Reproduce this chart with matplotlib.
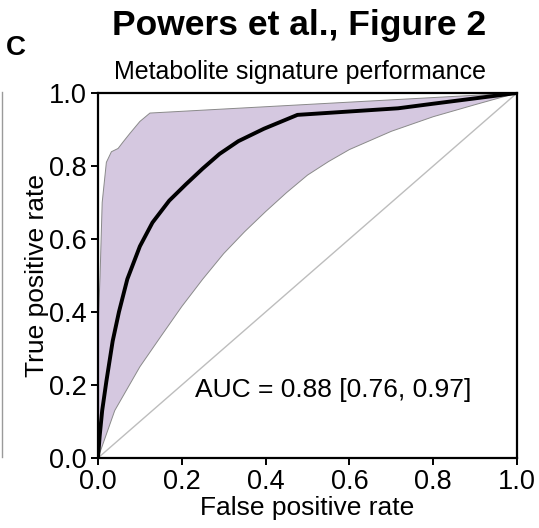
import matplotlib.pyplot as plt
from matplotlib.lines import Line2D

plt.rcParams['font.family'] = ['Liberation Sans', 'DejaVu Sans']

# mean ROC curve
fpr = [0, 0.004, 0.01, 0.02, 0.035, 0.05, 0.07, 0.1, 0.13, 0.17, 0.21, 0.25, 0.29, 0.335,
       0.396, 0.476, 0.716, 0.796, 1.0]
tpr = [0, 0.06, 0.13, 0.21, 0.32, 0.40, 0.49, 0.58, 0.645, 0.705, 0.75, 0.793, 0.833, 0.868,
       0.902, 0.94, 0.958, 0.97, 1.0]

# confidence band edges
up_x = [0, 0, 0.005, 0.01, 0.02, 0.032, 0.048, 0.06, 0.076, 0.1, 0.124, 1.0]
up_y = [0, 0.35, 0.50, 0.70, 0.81, 0.839, 0.848, 0.866, 0.889, 0.922, 0.945, 1.0]
lo_x = [0, 0.04, 0.1, 0.15, 0.2, 0.25, 0.3, 0.35, 0.4, 0.45, 0.5, 0.55, 0.6, 0.7, 0.8, 0.9, 1.0]
lo_y = [0, 0.13, 0.25, 0.333, 0.415, 0.49, 0.56, 0.62, 0.675, 0.727, 0.775, 0.812, 0.845,
        0.895, 0.935, 0.968, 1.0]

ticks = [0.0, 0.2, 0.4, 0.6, 0.8, 1.0]
auc_text = 'AUC = 0.88 [0.76, 0.97]'

fig = plt.figure(figsize=(5.39, 5.28), dpi=100)
ax = fig.add_axes([0.1818, 0.1326, 0.7774, 0.6913])

band_x = up_x + lo_x[::-1]
band_y = up_y + lo_y[::-1]
ax.fill(band_x, band_y, facecolor='#d5c8e0', edgecolor='#8a8a8a', linewidth=0.7)
ax.plot([0, 1], [0, 1], color='#bdbdbd', linewidth=1.0)
ax.plot(fpr, tpr, color='black', linewidth=2.8, solid_capstyle='round')

ax.set_xlim(0, 1)
ax.set_ylim(0, 1)
ax.set_xticks(ticks)
ax.set_yticks(ticks)
ax.set_xticklabels([f'{t:.1f}' for t in ticks])
ax.set_yticklabels([f'{t:.1f}' for t in ticks])
for s in ax.spines.values():
    s.set_linewidth(1.6)
ax.tick_params(direction='out', length=5, width=1.4, labelsize=19.5, pad=3)

ax.set_xlabel('False positive rate', fontsize=19, labelpad=0.5)
ax.set_ylabel('True positive rate', fontsize=19, labelpad=0)
ax.text(0.231, 0.186, auc_text, fontsize=19, va='center', ha='left')

fig.text(0.554, 0.952, 'Powers et al., Figure 2', fontsize=25.5, fontweight='bold',
         ha='center', va='center')
fig.text(0.557, 0.864, 'Metabolite signature performance', fontsize=18,
         ha='center', va='center')
fig.text(0.030, 0.909, 'C', fontsize=20, fontweight='bold', ha='center', va='center')

# edge of the neighbouring panel
fig.add_artist(Line2D([0.004, 0.004], [0.134, 0.825], color='#9a9a9a', linewidth=1.0))

fig.savefig('out.png', dpi=100)
